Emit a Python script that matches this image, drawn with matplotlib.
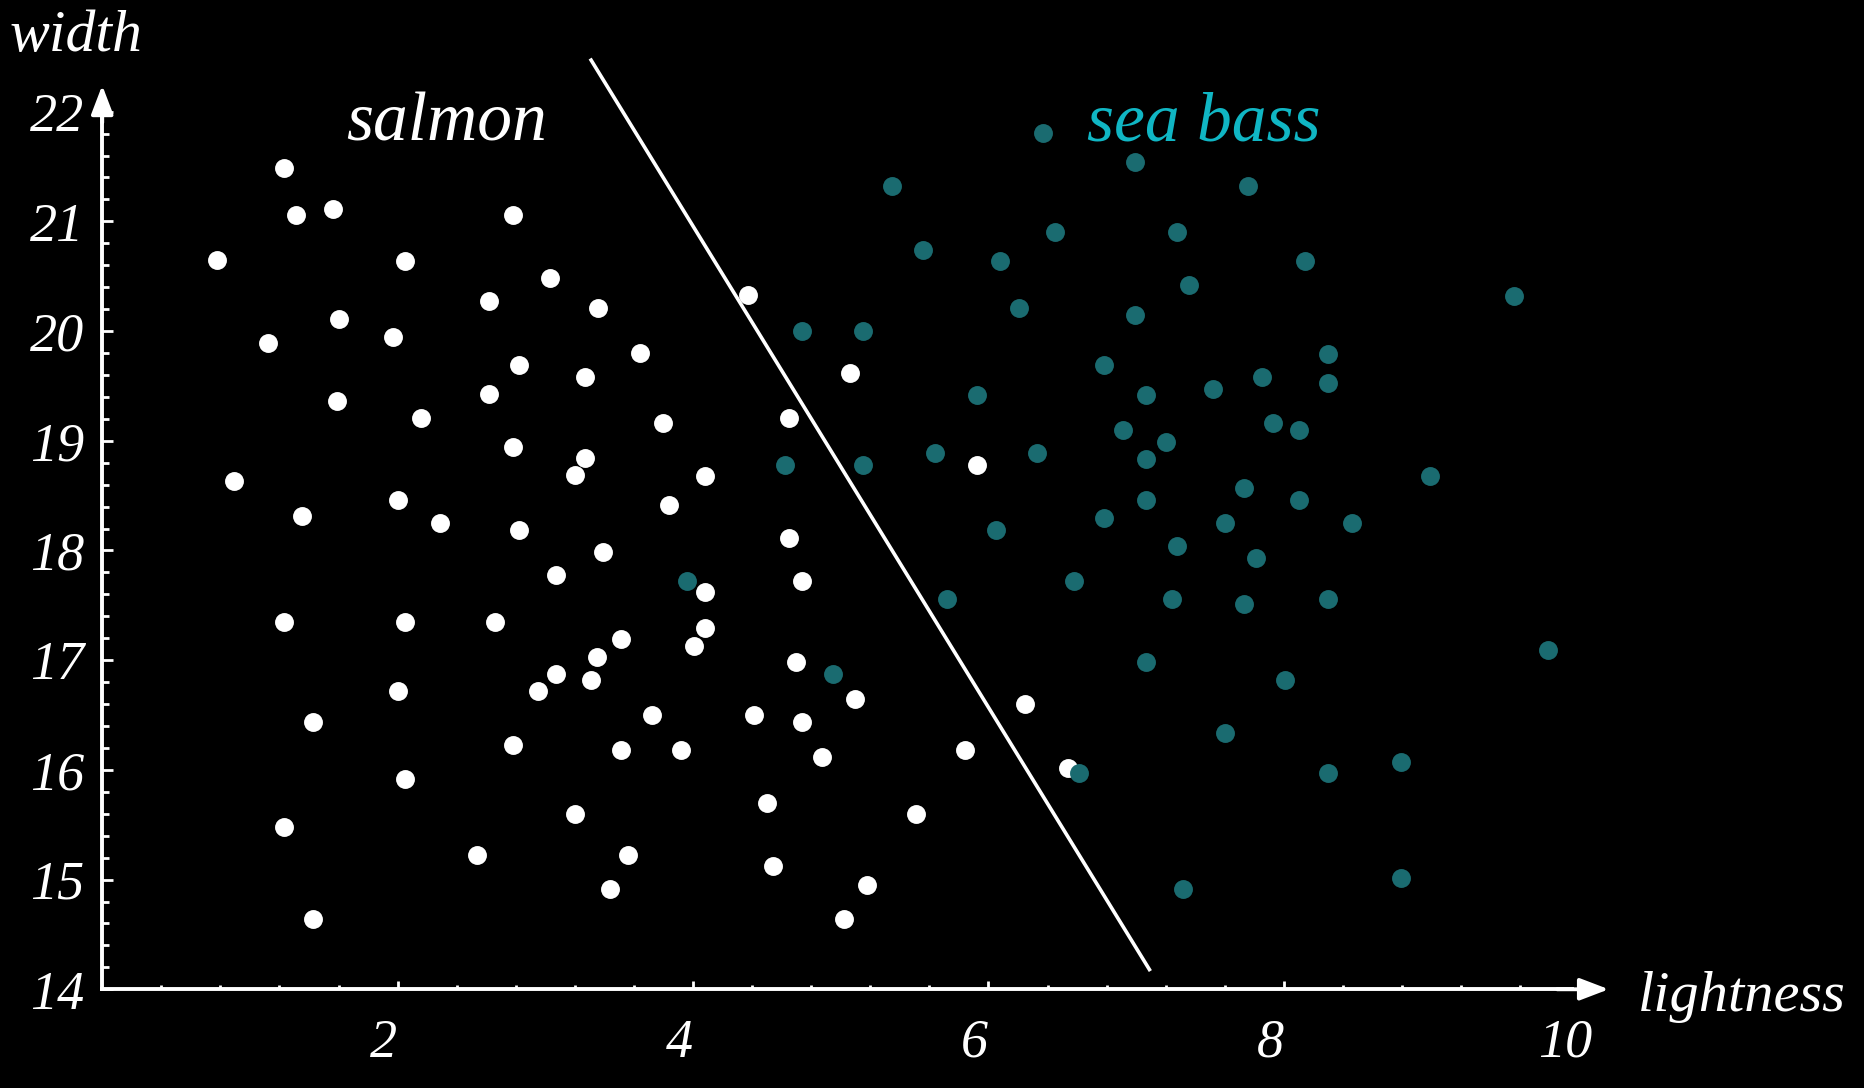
import numpy as np
import matplotlib.pyplot as plt
from matplotlib.transforms import ScaledTranslation

# salmon samples (lightness, width)
salmon_x = [1.23, 1.31, 1.56, 0.78, 2.05, 2.78, 1.60, 1.12, 1.97, 2.62,
            3.03, 3.36, 1.59, 2.16, 2.62, 2.82, 3.27, 3.64, 4.37, 5.06,
            0.89, 1.35, 2.00, 2.29, 2.78, 2.82, 3.20, 3.27, 3.80, 4.08,
            3.84, 4.65, 3.39, 3.07, 4.65, 4.74, 4.08, 1.23, 2.05, 2.66,
            2.00, 2.95, 3.07, 3.31, 3.35, 3.51, 4.01, 4.08, 3.72, 3.92,
            3.51, 2.78, 1.43, 2.05, 1.23, 2.54, 3.20, 3.56, 3.44, 1.43,
            4.41, 4.50, 4.54, 4.70, 4.74, 4.87, 5.10, 5.18, 5.02, 5.51,
            5.84, 5.92, 6.25, 6.54]
salmon_y = [21.49, 21.06, 21.11, 20.65, 20.64, 21.06, 20.11, 19.89, 19.95, 20.27,
            20.48, 20.21, 19.36, 19.21, 19.43, 19.69, 19.58, 19.80, 20.33, 19.62,
            18.63, 18.31, 18.46, 18.25, 18.94, 18.19, 18.69, 18.84, 19.16, 18.68,
            18.41, 19.21, 17.99, 17.78, 18.11, 17.72, 17.62, 17.35, 17.35, 17.35,
            16.72, 16.72, 16.87, 16.82, 17.03, 17.19, 17.13, 17.29, 16.50, 16.18,
            16.18, 16.23, 16.44, 15.92, 15.48, 15.22, 15.60, 15.22, 14.91, 14.64,
            16.50, 15.70, 15.12, 16.98, 16.44, 16.12, 16.65, 14.95, 14.64, 15.60,
            16.18, 18.78, 16.60, 16.02]

# sea bass samples
bass_x = [6.37, 6.99, 5.35, 7.76, 5.56, 6.45, 7.28, 6.08, 8.14, 7.36,
          9.56, 6.21, 6.99, 4.74, 5.15, 8.30, 6.78, 7.85, 8.30, 5.92,
          7.07, 7.52, 6.91, 7.93, 8.10, 7.20, 5.64, 6.33, 7.07, 4.62,
          5.15, 8.99, 7.73, 7.07, 8.10, 6.78, 6.05, 7.60, 8.46, 7.28,
          7.81, 3.96, 6.58, 5.72, 7.24, 7.73, 8.30, 7.07, 9.79, 4.95,
          8.01, 7.60, 6.61, 8.30, 8.79, 7.32, 8.79]
bass_y = [21.81, 21.54, 21.32, 21.32, 20.74, 20.90, 20.90, 20.64, 20.64, 20.42,
          20.32, 20.21, 20.15, 20.00, 20.00, 19.79, 19.69, 19.58, 19.53, 19.42,
          19.42, 19.47, 19.10, 19.16, 19.10, 18.99, 18.89, 18.89, 18.83, 18.78,
          18.78, 18.68, 18.57, 18.46, 18.46, 18.30, 18.19, 18.25, 18.25, 18.04,
          17.93, 17.72, 17.72, 17.56, 17.56, 17.51, 17.56, 16.98, 17.09, 16.87,
          16.82, 16.34, 15.97, 15.97, 16.07, 14.91, 15.01]

# decision boundary
boundary_x = [3.31, 7.09]
boundary_y = [22.47, 14.18]

xticks = [2, 4, 6, 8, 10]
yticks = [14, 15, 16, 17, 18, 19, 20, 21, 22]

serif = 'Liberation Serif'
teal = '#1a6b70'

fig = plt.figure(figsize=(18.64, 10.88), dpi=100, facecolor='black')
ax = fig.add_axes([0, 0, 1, 1], facecolor='black')
ax.set_xlim(-0.692, 11.928)
ax.set_ylim(13.10, 23.018)

ax.scatter(salmon_x, salmon_y, s=185, color='white', linewidths=0, zorder=3)
ax.scatter(bass_x, bass_y, s=185, color=teal, linewidths=0, zorder=3)
ax.plot(boundary_x, boundary_y, color='white', lw=2.6, zorder=2)

# axes through the origin (0, 14)
for side in ['top', 'right']:
    ax.spines[side].set_visible(False)
ax.spines['left'].set_position(('data', 0))
ax.spines['bottom'].set_position(('data', 14))
ax.spines['left'].set_bounds(14, 22.0)
ax.spines['bottom'].set_bounds(0, 9.95)
for side in ['left', 'bottom']:
    ax.spines[side].set_color('white')
    ax.spines[side].set_linewidth(2.8)

arrow = dict(arrowstyle='-|>,head_length=1.1,head_width=0.42', color='white',
             lw=2.8, shrinkA=0, shrinkB=0, mutation_scale=16)
ax.annotate('', xy=(0, 22.24), xytext=(0, 21.9), arrowprops=arrow)
ax.annotate('', xy=(10.2, 14), xytext=(9.85, 14), arrowprops=arrow)

ax.set_xticks(xticks)
ax.set_xticks(np.arange(0.4, 10.0, 0.4), minor=True)
ax.set_yticks(yticks)
ax.set_yticks(np.arange(14.2, 22.0, 0.2), minor=True)
ax.set_xticklabels([str(t) for t in xticks])
ax.set_yticklabels([str(t) for t in yticks])

ax.tick_params(axis='x', which='major', direction='in', length=6, width=2,
               color='white', pad=21)
ax.tick_params(axis='x', which='minor', direction='in', length=3, width=2,
               color='white')
ax.tick_params(axis='y', which='major', direction='in', length=8, width=2,
               color='white', pad=13)
ax.tick_params(axis='y', which='minor', direction='in', length=5, width=2,
               color='white')

for lab in ax.get_xticklabels() + ax.get_yticklabels():
    lab.set_fontfamily(serif)
    lab.set_fontstyle('italic')
    lab.set_fontsize(39)
    lab.set_color('white')
shift = ScaledTranslation(-10 / 72, 0, fig.dpi_scale_trans)
for lab in ax.get_xticklabels():
    lab.set_transform(lab.get_transform() + shift)

ax.text(-0.628, 22.55, 'width', family=serif, style='italic', fontsize=43,
        color='white', ha='left', va='baseline')
ax.text(10.40, 13.80, 'lightness', family=serif, style='italic', fontsize=42,
        color='white', ha='left', va='baseline')
ax.text(2.33, 21.74, 'salmon', family=serif, style='italic', fontsize=50,
        color='white', ha='center', va='baseline')
ax.text(7.46, 21.74, 'sea bass', family=serif, style='italic', fontsize=50,
        color='#10b6c4', ha='center', va='baseline')

plt.savefig('out.png', dpi=100, facecolor='black')
